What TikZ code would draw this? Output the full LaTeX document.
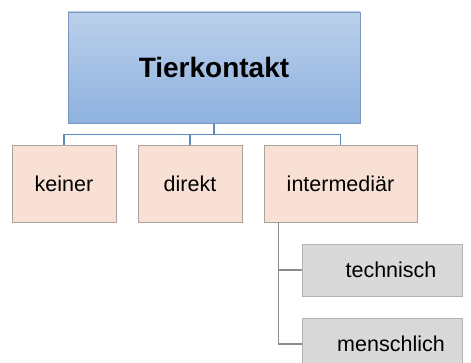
\documentclass[tikz,border=0pt]{standalone}
\usepackage{fontspec}
\setmainfont{Liberation Sans}
\usetikzlibrary{calc}
\definecolor{headtop}{HTML}{BBD0EB}
\definecolor{headbot}{HTML}{8EB1DF}
\definecolor{headedge}{HTML}{7D97BC}
\definecolor{peach}{HTML}{F8E1D4}
\definecolor{peachedge}{HTML}{A9A29E}
\definecolor{greybox}{HTML}{D9D9D9}
\definecolor{greyedge}{HTML}{B3B3B3}
\definecolor{busblue}{HTML}{5B8BC0}
\definecolor{busgrey}{HTML}{8C8C8C}
\tikzset{
  headbox/.style={draw=headedge, line width=0.8pt, top color=headtop, bottom color=headbot,
    minimum width=292pt, minimum height=111pt, inner sep=0pt,
    font=\fontsize{28}{32}\selectfont\bfseries},
  childbox/.style={draw=peachedge, line width=0.8pt, fill=peach, minimum height=77pt,
    inner sep=0pt, font=\fontsize{21.5}{25}\selectfont},
  subbox/.style={draw=greyedge, line width=0.8pt, fill=greybox, minimum width=160pt,
    minimum height=52pt, inner sep=0pt},
  subtext/.style={font=\fontsize{21.5}{25}\selectfont},
  blueline/.style={draw=busblue, line width=1.3pt},
  greyline/.style={draw=busgrey, line width=1.3pt},
}
\begin{document}
\begin{tikzpicture}[x=1pt, y=-1pt]
\useasboundingbox (0,0) rectangle (471,363);
\begin{scope}
\clip (0,0) rectangle (471,363);
% root
\node[headbox] (top) at (214,67.5) {Tierkontakt};
% first level
\node[childbox, minimum width=104pt] (keiner) at (64,183.5) {keiner};
\node[childbox, minimum width=104pt] (direkt) at (190,183.5) {direkt};
\node[childbox, minimum width=153pt] (inter) at (340.5,183.5) {intermediär};
% second level (text sits right of box centre)
\node[subbox] (tech) at (382,270) {};
\node[subtext] (techtxt) at (391,270) {technisch};
\node[subbox] (mensch) at (382,344) {};
\node[subtext] (menschtxt) at (391,344) {menschlich};
% blue bus
\coordinate (bus) at ($(top.south)+(0,11)$);
\draw[blueline] (top.south) -- (bus);
\draw[blueline] (keiner.north) |- (bus) -| (inter.north);
\draw[blueline] (direkt.north) -- (direkt.north |- bus);
% grey spine
\coordinate (spine) at ($(inter.south west)+(15,0)$);
\draw[greyline] (spine) |- (tech.west);
\draw[greyline] (spine) |- (mensch.west);
\end{scope}
\end{tikzpicture}
\end{document}
